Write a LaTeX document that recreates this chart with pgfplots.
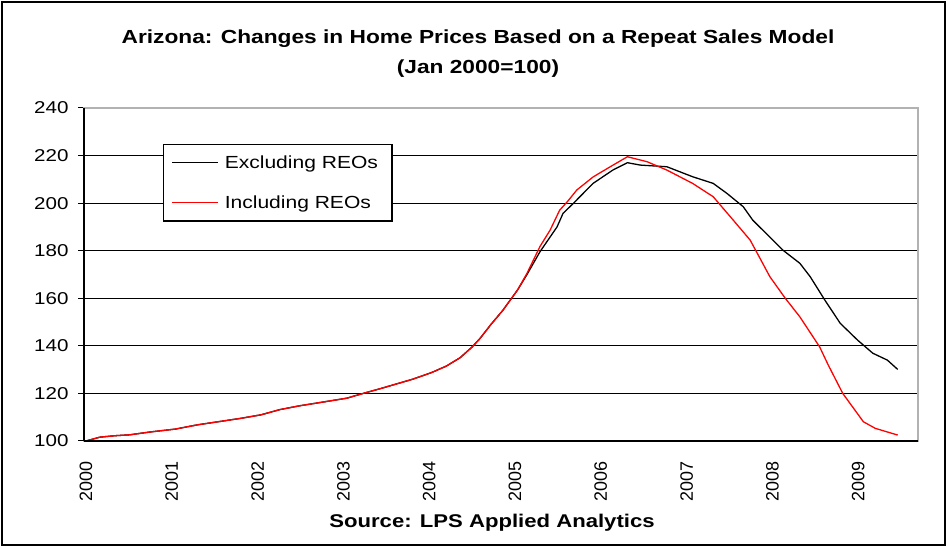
\documentclass[border=0pt]{standalone}
\usepackage{pgfplots}
\pgfplotsset{compat=1.18}
\usepackage{fontspec}
\setmainfont[FakeStretch=1.2]{Liberation Sans}
\newfontfamily\plainsans{Liberation Sans}
\pgfplotsset{
  mylegline/.style={legend image code/.code={\draw[##1, line width=1.2pt] (0bp,0bp) -- (46bp,0bp);}},
}
\begin{document}
\begin{tikzpicture}[x=1bp,y=1bp]
\useasboundingbox (-84,-107) rectangle (864,441);
\begin{axis}[
  at={(0,0)}, anchor=south west,
  scale only axis, width=834bp, height=333bp,
  xmin=1999.977, xmax=2009.697,
  ymin=100, ymax=240,
  xtick={2000,2001,...,2009},
  ytick={100,120,...,240},
  xticklabel style={rotate=90, anchor=east, font=\plainsans\fontsize{18}{20}\selectfont},
  yticklabel style={font=\fontsize{17.2}{20}\selectfont},
  xticklabel shift=11bp,
  yticklabel shift=6bp,
  xticklabel={\pgfmathprintnumber[1000 sep={}]{\tick}},
  /pgf/number format/assume math mode=true,
  /pgf/number format/1000 sep={},
  x tick style={draw=none},
  y tick style={black, line width=1pt},
  tick align=outside, major tick length=6bp,
  ymajorgrids, grid style={black, line width=1.2pt},
  axis line style={draw=gray!60, line width=1.5pt},
  xtick pos=bottom, ytick pos=left,
  legend style={at={(0.0947,0.892)}, anchor=north west, fill=white, line width=1.2pt,
    font=\fontsize{17.6}{20}\selectfont, row sep=22bp, inner xsep=8bp, inner ysep=9bp,
    nodes={inner xsep=6bp}},
  legend cell align=left,
]
\addplot[black, line width=1.3pt, mylegline] coordinates {
(2000.00,100.0)(2000.16,101.6)(2000.33,102.2)(2000.51,102.6)(2000.75,103.8)(2001.04,105.0)(2001.30,106.8)(2001.56,108.2)(2001.80,109.5)(2002.04,111.0)(2002.26,113.2)(2002.49,114.8)(2002.75,116.3)(2003.04,118.0)(2003.23,120.0)(2003.43,122.0)(2003.62,124.0)(2003.81,126.0)(2004.03,128.8)(2004.20,131.5)(2004.36,135.0)(2004.50,139.5)(2004.59,143.0)(2004.72,149.0)(2004.86,155.0)(2005.03,163.5)(2005.14,170.0)(2005.29,179.5)(2005.49,190.0)(2005.56,195.7)(2005.68,199.9)(2005.91,208.3)(2006.14,213.9)(2006.31,217.0)(2006.46,216.0)(2006.77,215.3)(2007.07,211.1)(2007.31,208.3)(2007.47,204.1)(2007.66,198.5)(2007.77,192.9)(2008.12,180.3)(2008.32,174.7)(2008.44,169.1)(2008.61,159.3)(2008.79,149.5)(2008.99,142.5)(2009.17,136.9)(2009.34,134.0)(2009.46,130.1)
};
\addlegendentry{Excluding REOs}
\addplot[red, line width=1.3pt, mylegline] coordinates {
(2000.00,100.0)(2000.16,101.6)(2000.33,102.2)(2000.51,102.6)(2000.75,103.8)(2001.04,105.0)(2001.30,106.8)(2001.56,108.2)(2001.80,109.5)(2002.04,111.0)(2002.26,113.2)(2002.49,114.8)(2002.75,116.3)(2003.04,118.0)(2003.23,120.0)(2003.43,122.0)(2003.62,124.0)(2003.81,126.0)(2004.03,128.8)(2004.20,131.5)(2004.36,135.0)(2004.50,139.5)(2004.59,143.0)(2004.72,149.0)(2004.86,155.0)(2005.03,163.5)(2005.14,170.5)(2005.29,181.7)(2005.41,188.7)(2005.52,197.0)(2005.61,200.6)(2005.72,205.5)(2005.91,211.0)(2006.11,215.3)(2006.31,219.5)(2006.54,217.4)(2006.77,213.9)(2007.07,208.3)(2007.31,202.7)(2007.54,193.0)(2007.74,184.5)(2007.86,176.5)(2007.97,169.1)(2008.15,160.0)(2008.32,152.2)(2008.55,139.6)(2008.65,132.0)(2008.82,120.0)(2009.06,108.1)(2009.20,105.3)(2009.46,102.5)
};
\addlegendentry{Including REOs}
\end{axis}
\draw[black, line width=1.5pt] (0,0) -- (0,333);
\draw[black, line width=1.5pt] (0,0) -- (834,0);
\draw[black, line width=2.5pt] (-82,-104) rectangle (861,439);
\node[font=\bfseries\fontsize{19}{21}\selectfont] at (394,402) {Arizona: Changes in Home Prices Based on a Repeat Sales Model};
\node[font=\bfseries\fontsize{19}{21}\selectfont] at (394,372) {(Jan 2000=100)};
\node[font=\bfseries\fontsize{18.5}{21}\selectfont] at (408,-82) {Source: LPS Applied Analytics};
\end{tikzpicture}
\end{document}
